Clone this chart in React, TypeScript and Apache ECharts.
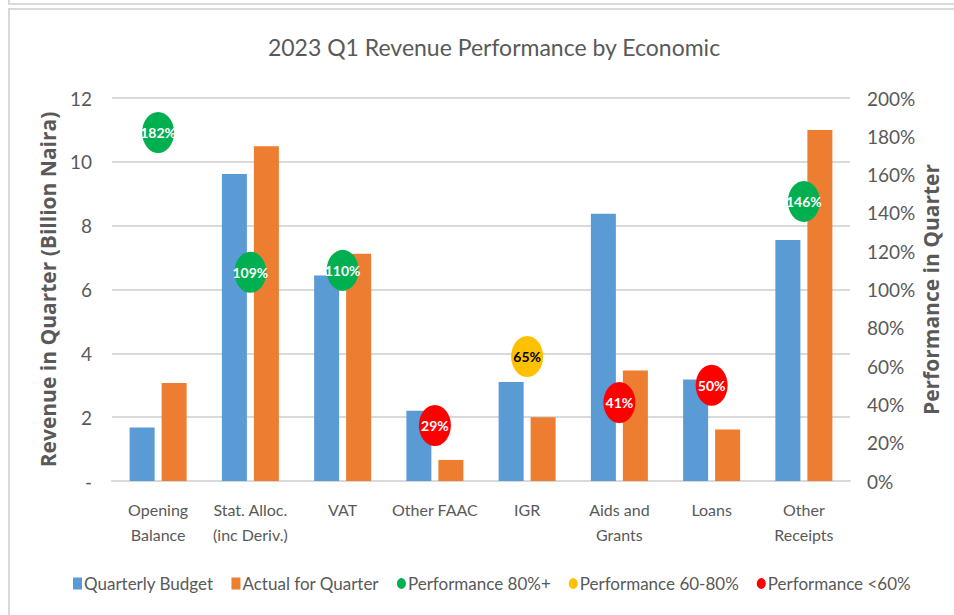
import React, { useEffect, useRef } from "react";
import * as echarts from "echarts";

const categories = [
  "Opening\nBalance",
  "Stat. Alloc.\n(inc Deriv.)",
  "VAT",
  "Other FAAC",
  "IGR",
  "Aids and\nGrants",
  "Loans",
  "Other\nReceipts",
];
const quarterlyBudget = [1.68, 9.62, 6.44, 2.2, 3.1, 8.37, 3.18, 7.55];
const actualForQuarter = [3.07, 10.49, 7.12, 0.66, 2.0, 3.46, 1.61, 11.0];
const performance = [182, 109, 110, 29, 65, 41, 50, 146];
const leftTicks = [0, 2, 4, 6, 8, 10, 12];
const rightTicks = [0, 20, 40, 60, 80, 100, 120, 140, 160, 180, 200];

const FONT = "Lato, 'Noto Sans', sans-serif";
const TITLE_FONT = "'Open Sans', 'Liberation Sans', sans-serif";
const TEXT = "#595959";
const GRID = "#d9d9d9";
const ELLIPSE = "path://M10,0 A10,12 0 1,1 10,24 A10,12 0 1,1 10,0 Z";

const bins = [
  { name: "Performance 80%+", color: "#00B050", text: "#ffffff", test: (v: number) => v >= 80 },
  { name: "Performance 60-80%", color: "#FFC000", text: "#000000", test: (v: number) => v >= 60 && v < 80 },
  { name: "Performance <60%", color: "#FF0000", text: "#ffffff", test: (v: number) => v < 60 },
];

export default function App() {
  const ref = useRef<HTMLDivElement>(null);
  useEffect(() => {
    if (!ref.current) return;
    const chart = echarts.init(ref.current, undefined, { renderer: "svg" });
    const scatterSeries = bins.map((b) => ({
      name: b.name,
      type: "scatter",
      xAxisIndex: 0,
      yAxisIndex: 1,
      symbol: ELLIPSE,
      symbolSize: [32, 41],
      itemStyle: { color: b.color, opacity: 1 },
      z: 5,
      label: {
        show: true,
        position: "inside",
        color: b.text,
        fontFamily: FONT,
        fontWeight: "bold",
        fontSize: 14,
        formatter: (p: any) => p.value[1] + "%",
      },
      data: performance
        .map((v, i) => (b.test(v) ? [i, v] : null))
        .filter((d) => d !== null),
    }));
    chart.setOption({
      animation: false,
      backgroundColor: "#ffffff",
      title: {
        text: "2023 Q1 Revenue Performance by Economic",
        left: 489,
        top: 30,
        textAlign: "center",
        textStyle: { fontFamily: FONT, fontSize: 23, fontWeight: "normal", color: TEXT },
      },
      graphic: [
        { type: "line", shape: { x1: 9, y1: 0, x2: 9, y2: 4 }, style: { stroke: GRID, lineWidth: 2 } },
        { type: "line", shape: { x1: 8, y1: 4, x2: 954, y2: 4 }, style: { stroke: GRID, lineWidth: 2 } },
        { type: "rect", shape: { x: 9, y: 9, width: 960, height: 620 }, style: { fill: "none", stroke: GRID, lineWidth: 2 } },
      ],
      legend: {
        left: 68,
        top: 570,
        itemGap: 18,
        itemWidth: 9,
        itemHeight: 12,
        textStyle: { fontFamily: FONT, fontSize: 17, color: TEXT, padding: [0, 0, 0, -3] },
        data: [
          { name: "Quarterly Budget", icon: "rect" },
          { name: "Actual for Quarter", icon: "rect" },
          { name: "Performance 80%+", icon: ELLIPSE },
          { name: "Performance 60-80%", icon: ELLIPSE },
          { name: "Performance <60%", icon: ELLIPSE },
        ],
      },
      grid: { left: 112, right: 104, top: 98, bottom: 134 },
      xAxis: {
        type: "category",
        data: categories,
        axisLine: { show: true, lineStyle: { color: GRID, width: 2 } },
        axisTick: { show: false },
        axisLabel: {
          interval: 0,
          margin: 16,
          fontFamily: FONT,
          fontSize: 16,
          lineHeight: 25,
          color: TEXT,
        },
      },
      yAxis: [
        {
          type: "value",
          min: leftTicks[0],
          max: leftTicks[leftTicks.length - 1],
          interval: 2,
          name: "Revenue in Quarter (Billion Naira)",
          nameLocation: "middle",
          nameGap: 54,
          nameMoveOverlap: false,
          nameTextStyle: { fontFamily: TITLE_FONT, fontSize: 21, fontWeight: "bold", color: TEXT },
          axisLine: { show: false },
          axisTick: { show: false },
          splitLine: { lineStyle: { color: GRID, width: 2 } },
          axisLabel: {
            margin: 20,
            fontFamily: FONT,
            fontSize: 19,
            color: TEXT,
            formatter: (v: number) => (v === 0 ? "-" : String(v)),
          },
        },
        {
          type: "value",
          min: rightTicks[0],
          max: rightTicks[rightTicks.length - 1],
          interval: 20,
          name: "Performance in Quarter",
          nameLocation: "middle",
          nameGap: 70,
          nameMoveOverlap: false,
          nameTextStyle: { fontFamily: TITLE_FONT, fontSize: 21, fontWeight: "bold", color: TEXT },
          axisLine: { show: false },
          axisTick: { show: false },
          splitLine: { show: false },
          axisLabel: {
            margin: 17,
            fontFamily: FONT,
            fontSize: 19,
            color: TEXT,
            formatter: (v: number) => v + "%",
          },
        },
      ],
      series: [
        {
          name: "Quarterly Budget",
          type: "bar",
          yAxisIndex: 0,
          barWidth: 25,
          barGap: "28%",
          itemStyle: { color: "#5B9BD5" },
          data: quarterlyBudget,
        },
        {
          name: "Actual for Quarter",
          type: "bar",
          yAxisIndex: 0,
          barWidth: 25,
          itemStyle: { color: "#ED7D31" },
          data: actualForQuarter,
        },
        ...scatterSeries,
      ],
    });
    return () => chart.dispose();
  }, []);
  return (
    <div
      ref={ref}
      style={{ position: "absolute", left: 0, top: 0, width: 954, height: 615 }}
    />
  );
}
